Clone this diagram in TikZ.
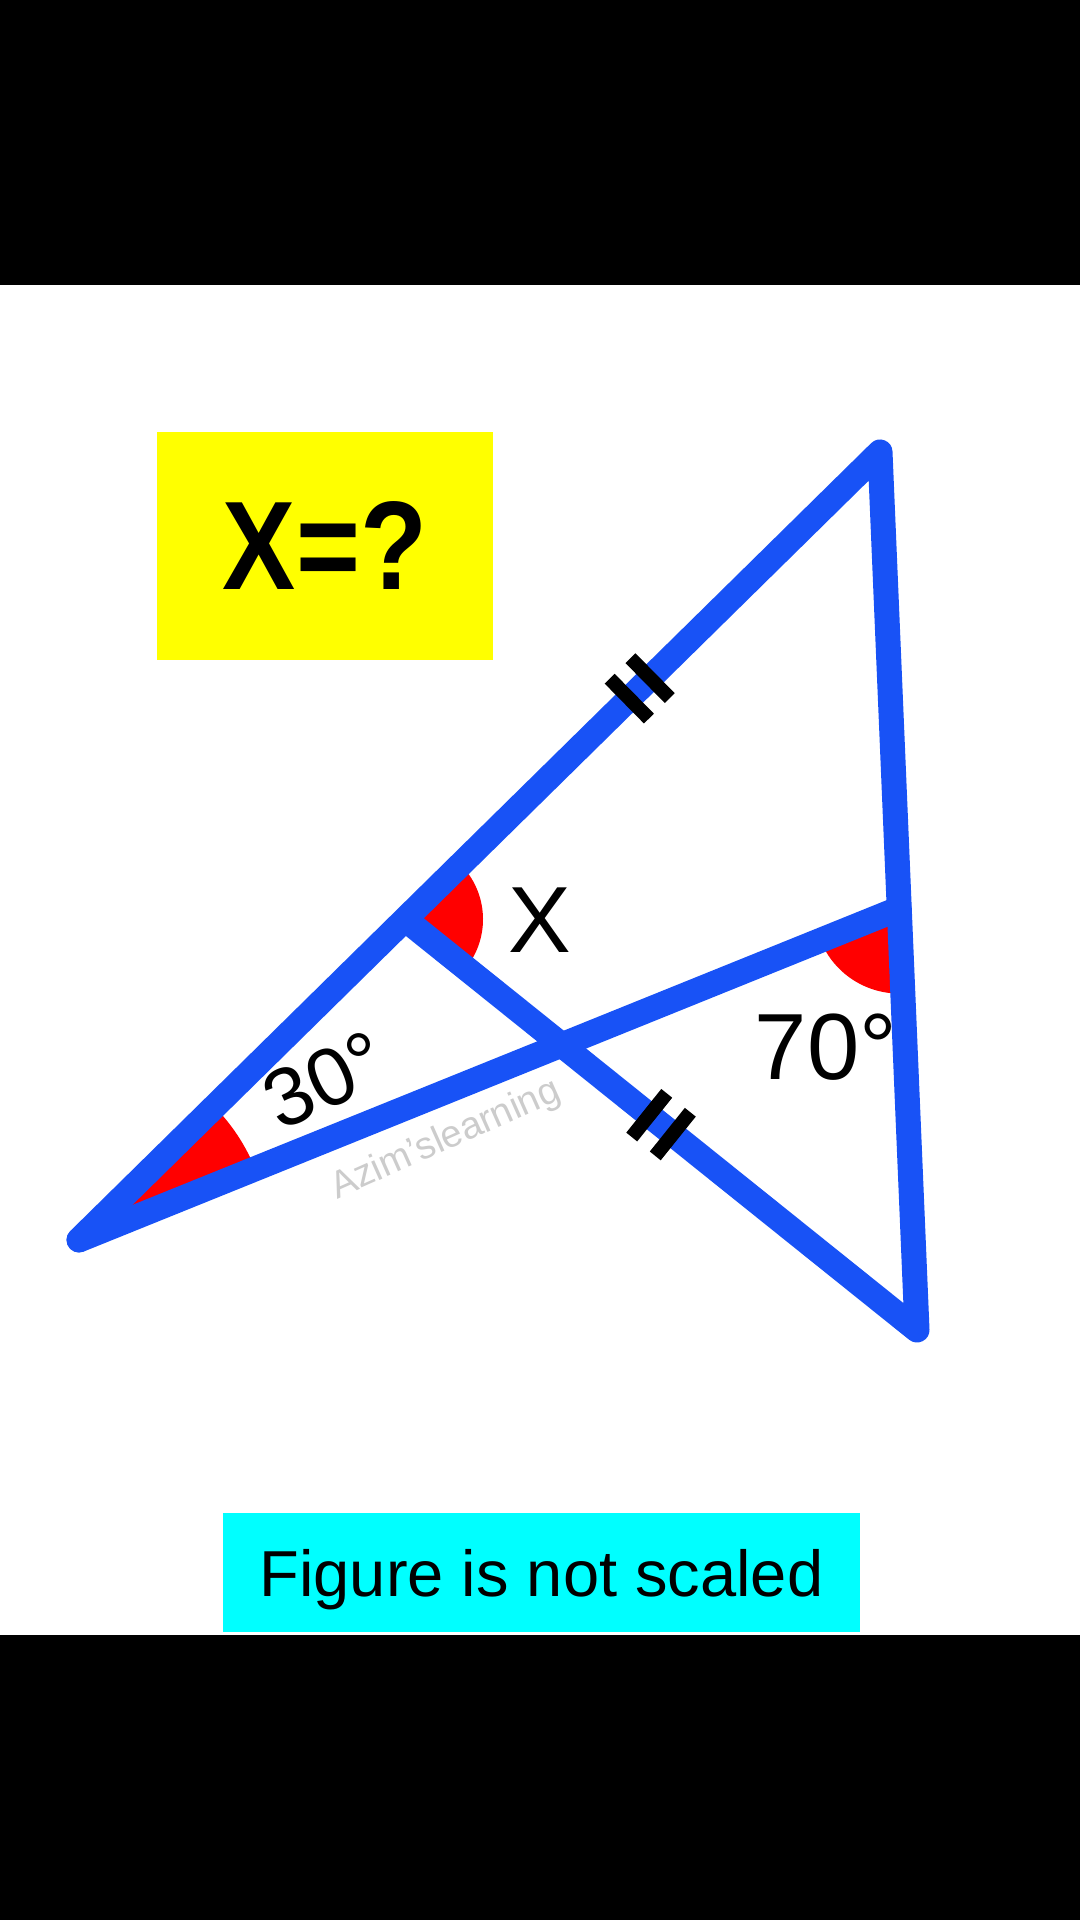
\documentclass[tikz,border=0pt]{standalone}
\usepackage{fontspec}
\setmainfont{Liberation Sans}
\usetikzlibrary{calc}
\definecolor{lineblue}{RGB}{24,82,246}
\definecolor{boxyellow}{RGB}{255,255,0}
\definecolor{boxcyan}{RGB}{0,255,255}
\begin{document}
\begin{tikzpicture}[x=0.5pt, y=0.5pt,
		side/.style={line width=12.5pt, color=lineblue, line cap=round, line join=round},
		tickmark/.style={line width=7pt, black},
		anglefill/.style={fill=red},
		anglelabel/.style={font=\fontsize{47}{50}\selectfont}]
		\useasboundingbox (0, 0) rectangle (1080, 1920);
		\fill[white] (0, 0) rectangle (1080, 1920);
		\fill[black] (0, 1635) rectangle (1080, 1920);
		\fill[black] (0, 0) rectangle (1080, 285);

		\node[fill=boxyellow, minimum width=168pt, minimum height=114pt, inner sep=0pt,
			font=\fontsize{63}{70}\selectfont\bfseries] (question) at (325, 1374) {\scalebox{0.87}[1]{X=?}};
		\node[fill=boxcyan, minimum width=318.5pt, minimum height=59.5pt, inner sep=0pt,
			text depth=0pt, font=\fontsize{32.5}{35}\selectfont] (note) at (541.5, 347.5) {Figure is not scaled};

		\coordinate (A) at (79, 680);
		\coordinate (T) at (880, 1468);
		\coordinate (B) at (917, 590);
		\coordinate (D) at ($(A)!0.407!(T)$);
		\coordinate (E) at ($(T)!0.52!(B)$);

		\fill[anglefill] (A) -- ++(21.9:190) arc[start angle=21.9, end angle=44.5, radius=190] -- cycle;
		\fill[anglefill] (D) -- ++(-38.7:78) arc[start angle=-38.7, end angle=44.5, radius=78] -- cycle;
		\fill[anglefill] (E) -- ++(201.9:85) arc[start angle=201.9, end angle=272.5, radius=85] -- cycle;

		\draw[side] (A) -- (T) -- (B) -- (D);
		\draw[side] (A) -- (E);

		\foreach \t in {0.687, 0.713} {
			\coordinate (tick) at ($(A)!\t!(T)$);
			\draw[tickmark] ($(tick)!14pt!90:(T)$) -- ($(tick)!14pt!-90:(T)$);
		}
		\foreach \t in {0.477, 0.523} {
			\coordinate (tick) at ($(D)!\t!(B)$);
			\draw[tickmark] ($(tick)!14pt!90:(B)$) -- ($(tick)!14pt!-90:(B)$);
		}

		\node[anglelabel] (labelX) at (540, 1000) {X};
		\node[anglelabel] (label70) at (826, 873) {70°};
		\node[anglelabel, font=\fontsize{41}{44}\selectfont, rotate=25] (label30) at (325, 840) {30°};
		\node[gray!40, rotate=24, font=\fontsize{19}{20}\selectfont] (mark) at (446, 780) {Azim'slearning};
	\end{tikzpicture}
\end{document}
